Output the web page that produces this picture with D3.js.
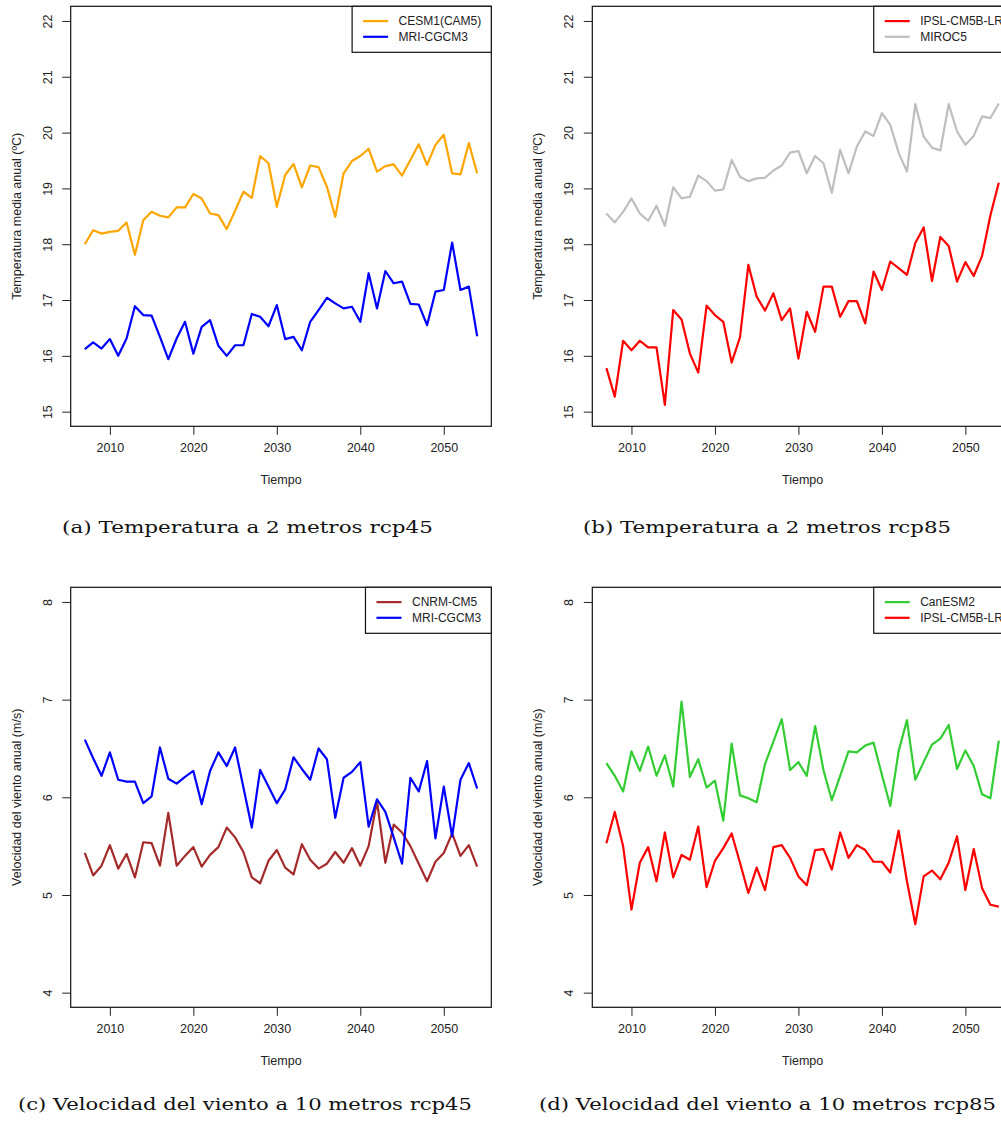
<!DOCTYPE html>
<html>
<head>
<meta charset="utf-8">
<script src="https://cdn.jsdelivr.net/npm/d3@7"></script>
<style>
  html, body { margin: 0; padding: 0; background: #fff; overflow: hidden; }
  svg { display: block; }
</style>
</head>
<body>
<svg id="fig" width="1001" height="1124"></svg>
<script>
// Annual series, 2007-2054
const years = [2007, 2008, 2009, 2010, 2011, 2012, 2013, 2014, 2015, 2016, 2017, 2018,
  2019, 2020, 2021, 2022, 2023, 2024, 2025, 2026, 2027, 2028, 2029, 2030,
  2031, 2032, 2033, 2034, 2035, 2036, 2037, 2038, 2039, 2040, 2041, 2042,
  2043, 2044, 2045, 2046, 2047, 2048, 2049, 2050, 2051, 2052, 2053, 2054];

const yearTicks = [2010, 2020, 2030, 2040, 2050];
const tempTicks = [15, 16, 17, 18, 19, 20, 21, 22];
const windTicks = [4, 5, 6, 7, 8];

// 2 m temperature (ºC), rcp45
const tempCesm1Rcp45 = [18.00, 18.25, 18.19, 18.22, 18.24, 18.39, 17.81, 18.43, 18.58, 18.51, 18.48, 18.66,
  18.66, 18.90, 18.82, 18.55, 18.52, 18.27, 18.60, 18.94, 18.83, 19.58, 19.45, 18.67,
  19.24, 19.44, 19.02, 19.41, 19.38, 19.03, 18.49, 19.27, 19.49, 19.58, 19.71, 19.30,
  19.40, 19.43, 19.23, 19.51, 19.79, 19.42, 19.78, 19.96, 19.27, 19.25, 19.81, 19.27];
const tempMriRcp45 = [16.12, 16.24, 16.13, 16.30, 16.00, 16.31, 16.89, 16.73, 16.72, 16.34, 15.94, 16.31,
  16.61, 16.04, 16.52, 16.64, 16.18, 16.00, 16.19, 16.19, 16.75, 16.70, 16.53, 16.91,
  16.30, 16.34, 16.10, 16.61, 16.82, 17.04, 16.94, 16.85, 16.88, 16.61, 17.48, 16.85,
  17.52, 17.30, 17.33, 16.93, 16.92, 16.55, 17.15, 17.18, 18.03, 17.18, 17.24, 16.35];

// 2 m temperature (ºC), rcp85
const tempIpslRcp85 = [15.78, 15.27, 16.27, 16.10, 16.27, 16.15, 16.15, 15.12, 16.82, 16.65, 16.04, 15.70,
  16.90, 16.73, 16.61, 15.88, 16.33, 17.63, 17.06, 16.81, 17.12, 16.64, 16.85, 15.95,
  16.79, 16.43, 17.24, 17.24, 16.70, 16.98, 16.98, 16.58, 17.51, 17.18, 17.69, 17.57,
  17.45, 18.02, 18.30, 17.34, 18.13, 17.97, 17.33, 17.68, 17.43, 17.79, 18.52, 19.10];
const tempMirocRcp85 = [18.55, 18.39, 18.58, 18.82, 18.55, 18.42, 18.69, 18.33, 19.02, 18.82, 18.85, 19.23,
  19.13, 18.96, 18.98, 19.51, 19.21, 19.13, 19.18, 19.19, 19.32, 19.41, 19.64, 19.67,
  19.27, 19.58, 19.45, 18.92, 19.69, 19.27, 19.75, 20.02, 19.94, 20.35, 20.14, 19.64,
  19.30, 20.51, 19.93, 19.73, 19.68, 20.51, 20.02, 19.78, 19.94, 20.29, 20.26, 20.52];

// 10 m wind speed (m/s), rcp45
const windCnrmRcp45 = [5.43, 5.20, 5.30, 5.51, 5.27, 5.42, 5.18, 5.54, 5.53, 5.30, 5.84, 5.30,
  5.40, 5.49, 5.29, 5.41, 5.49, 5.69, 5.59, 5.44, 5.18, 5.12, 5.35, 5.46,
  5.28, 5.21, 5.52, 5.36, 5.27, 5.32, 5.44, 5.33, 5.48, 5.30, 5.50, 5.96,
  5.33, 5.72, 5.64, 5.50, 5.32, 5.14, 5.34, 5.43, 5.63, 5.40, 5.51, 5.29];
const windMriRcp45 = [6.59, 6.40, 6.22, 6.46, 6.18, 6.16, 6.16, 5.94, 6.01, 6.51, 6.19, 6.14,
  6.21, 6.27, 5.93, 6.27, 6.46, 6.32, 6.51, 6.10, 5.69, 6.28, 6.11, 5.94,
  6.08, 6.41, 6.29, 6.18, 6.50, 6.39, 5.79, 6.20, 6.26, 6.36, 5.70, 5.98,
  5.85, 5.59, 5.32, 6.20, 6.06, 6.37, 5.58, 6.11, 5.60, 6.18, 6.35, 6.09];

// 10 m wind speed (m/s), rcp85
const windCanesmRcp85 = [6.35, 6.22, 6.06, 6.47, 6.27, 6.52, 6.22, 6.43, 6.11, 6.98, 6.21, 6.39,
  6.10, 6.17, 5.76, 6.55, 6.02, 5.99, 5.95, 6.34, 6.57, 6.80, 6.28, 6.36,
  6.22, 6.73, 6.28, 5.97, 6.22, 6.47, 6.46, 6.53, 6.56, 6.23, 5.91, 6.47,
  6.79, 6.18, 6.36, 6.54, 6.60, 6.74, 6.29, 6.48, 6.32, 6.03, 5.99, 6.58];
const windIpslRcp85 = [5.53, 5.85, 5.50, 4.85, 5.33, 5.49, 5.14, 5.64, 5.18, 5.41, 5.36, 5.70,
  5.08, 5.35, 5.48, 5.63, 5.33, 5.02, 5.28, 5.05, 5.49, 5.51, 5.38, 5.19,
  5.10, 5.46, 5.47, 5.26, 5.64, 5.38, 5.51, 5.46, 5.34, 5.34, 5.23, 5.66,
  5.14, 4.70, 5.19, 5.25, 5.16, 5.33, 5.60, 5.05, 5.47, 5.07, 4.90, 4.88];

const tempTitle = "Temperatura media anual (ºC)";
const windTitle = "Velocidad del viento anual (m/s)";

const panels = [
  { left: 70.7, top: 6.3, ticks: tempTicks, yTitle: tempTitle,
    caption: "(a) Temperatura a 2 metros rcp45", capX: 247.5, capY: 533.3, capW: 371,
    series: [{ name: "CESM1(CAM5)", color: "#FFA500", values: tempCesm1Rcp45 },
             { name: "MRI-CGCM3", color: "#0000FF", values: tempMriRcp45 }] },
  { left: 592.3, top: 6.3, ticks: tempTicks, yTitle: tempTitle,
    caption: "(b) Temperatura a 2 metros rcp85", capX: 767, capY: 533.3, capW: 368,
    series: [{ name: "IPSL-CM5B-LR", color: "#FF0000", values: tempIpslRcp85 },
             { name: "MIROC5", color: "#BEBEBE", values: tempMirocRcp85 }] },
  { left: 70.7, top: 587.3, ticks: windTicks, yTitle: windTitle,
    caption: "(c) Velocidad del viento a 10 metros rcp45", capX: 245, capY: 1110, capW: 454,
    series: [{ name: "CNRM-CM5", color: "#A52A2A", values: windCnrmRcp45 },
             { name: "MRI-CGCM3", color: "#0000FF", values: windMriRcp45 }] },
  { left: 592.3, top: 587.3, ticks: windTicks, yTitle: windTitle,
    caption: "(d) Velocidad del viento a 10 metros rcp85", capX: 767.5, capY: 1110, capW: 457,
    series: [{ name: "CanESM2", color: "#32CD32", values: windCanesmRcp85 },
             { name: "IPSL-CM5B-LR", color: "#FF0000", values: windIpslRcp85 }] }
];

const plotW = 420.6, plotH = 420.0;
const sans = "'Liberation Sans', Arial, sans-serif";
const svg = d3.select("#fig");

// extend a [min, max] range by a fraction on both sides
function padded(lo, hi, f) {
  const p = (hi - lo) * f;
  return [lo - p, hi + p];
}

panels.forEach(panel => {
  const g = svg.append("g").attr("transform", `translate(${panel.left},${panel.top})`);

  const x = d3.scaleLinear()
    .domain(padded(d3.min(years), d3.max(years), 0.036))
    .range([0, plotW]);
  const y = d3.scaleLinear()
    .domain(padded(d3.min(panel.ticks), d3.max(panel.ticks), 0.0375))
    .range([plotH, 0]);

  // bottom axis
  const xAxis = g.append("g")
    .attr("transform", `translate(0,${plotH})`)
    .call(d3.axisBottom(x).tickValues(yearTicks).tickFormat(d3.format("d"))
      .tickSizeInner(8.5).tickSizeOuter(0).tickPadding(8));
  xAxis.select(".domain").remove();
  xAxis.selectAll("line").attr("stroke", "#222").attr("stroke-width", 1);
  xAxis.selectAll("text")
    .attr("font-family", sans).attr("font-size", 12.5).attr("fill", "#222");

  // left axis, labels parallel to the axis
  const yAxis = g.append("g")
    .call(d3.axisLeft(y).tickValues(panel.ticks).tickFormat(d3.format("d"))
      .tickSizeInner(8.5).tickSizeOuter(0));
  yAxis.select(".domain").remove();
  yAxis.selectAll("line").attr("stroke", "#222").attr("stroke-width", 1);
  yAxis.selectAll("text")
    .attr("x", null).attr("dy", null)
    .attr("text-anchor", "middle")
    .attr("transform", "translate(-19,0) rotate(-90)")
    .attr("font-family", sans).attr("font-size", 12.5).attr("fill", "#222");

  // series
  const line = d3.line().x((d, i) => x(years[i])).y(d => y(d));
  panel.series.forEach(s => {
    g.append("path")
      .datum(s.values)
      .attr("d", line)
      .attr("fill", "none")
      .attr("stroke", s.color)
      .attr("stroke-width", 2.2)
      .attr("stroke-linejoin", "round");
  });

  // frame
  g.append("rect")
    .attr("width", plotW).attr("height", plotH)
    .attr("fill", "none").attr("stroke", "#111").attr("stroke-width", 1.2);

  // axis titles
  g.append("text")
    .attr("x", plotW / 2).attr("y", plotH + 58)
    .attr("text-anchor", "middle")
    .attr("font-family", sans).attr("font-size", 12.5).attr("fill", "#222")
    .text("Tiempo");
  g.append("text")
    .attr("transform", `translate(-50,${plotH / 2}) rotate(-90)`)
    .attr("text-anchor", "middle")
    .attr("font-family", sans).attr("font-size", 12.5).attr("fill", "#222")
    .text(panel.yTitle);

  // legend, anchored to the top-right corner of the frame
  const leg = g.append("g");
  const labels = panel.series.map((s, i) =>
    leg.append("text")
      .attr("y", 19 + i * 15.7)
      .attr("font-family", sans).attr("font-size", 12).attr("fill", "#222")
      .text(s.name));
  const textW = d3.max(labels, t => t.node().getComputedTextLength());
  const boxW = 46.5 + textW + 10;
  const boxX = plotW - boxW;
  leg.insert("rect", ":first-child")
    .attr("x", boxX).attr("y", 0).attr("width", boxW).attr("height", 46)
    .attr("fill", "#fff").attr("stroke", "#111").attr("stroke-width", 1.2);
  labels.forEach(t => t.attr("x", boxX + 46.5));
  panel.series.forEach((s, i) => {
    leg.append("line")
      .attr("x1", boxX + 11).attr("x2", boxX + 36)
      .attr("y1", 14.8 + i * 15.7).attr("y2", 14.8 + i * 15.7)
      .attr("stroke", s.color).attr("stroke-width", 2.2);
  });

  // sub-figure caption
  svg.append("text")
    .attr("x", panel.capX).attr("y", panel.capY)
    .attr("text-anchor", "middle")
    .attr("font-family", "'DejaVu Serif', serif")
    .attr("font-size", 17.5).attr("fill", "#111")
    .attr("textLength", panel.capW).attr("lengthAdjust", "spacingAndGlyphs")
    .text(panel.caption);
});
</script>
</body>
</html>
